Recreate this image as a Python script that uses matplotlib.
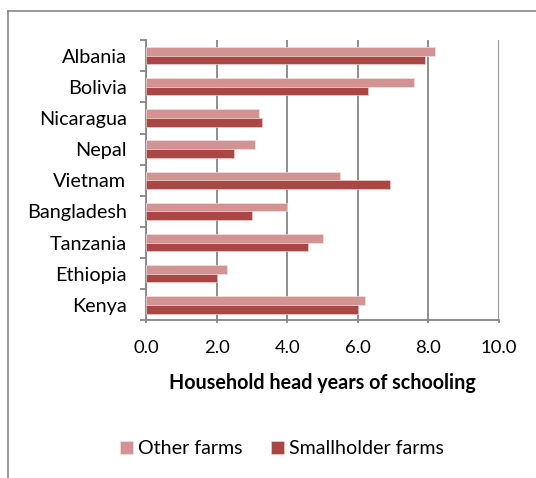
import numpy as np
import matplotlib
matplotlib.use("Agg")
import matplotlib.pyplot as plt
from matplotlib.lines import Line2D

plt.rcParams['font.family'] = ['Lato', 'DejaVu Sans']

countries = ["Kenya", "Ethiopia", "Tanzania", "Bangladesh", "Vietnam",
             "Nepal", "Nicaragua", "Bolivia", "Albania"]
other_farms = [6.2, 2.3, 5.0, 4.0, 5.5, 3.1, 3.2, 7.6, 8.2]
smallholder_farms = [6.0, 2.0, 4.6, 3.0, 6.9, 2.5, 3.3, 6.3, 7.9]
xticks = [0, 2, 4, 6, 8, 10]

grey = '#868686'
pink = '#D39392'
red = '#AA4643'

fig = plt.figure(figsize=(5.36, 4.78), dpi=100)
ax = fig.add_axes([0.2724, 0.3295, 0.6586, 0.5868])

y = np.arange(len(countries))
h = 0.28
ax.barh(y + h / 2, other_farms, height=h, color=pink, edgecolor='#F2E0E0',
        linewidth=0.5, label='Other farms', zorder=3)
ax.barh(y - h / 2, smallholder_farms, height=h, color=red, edgecolor='#ECCFCF',
        linewidth=0.5, label='Smallholder farms', zorder=3)

ax.set_xlim(0, 10)
ax.set_ylim(-0.5, len(countries) - 0.5)
ax.set_xticks(xticks)
ax.set_xticklabels([f"{v:.1f}" for v in xticks])
ax.set_yticks(y)
ax.set_yticklabels(countries)
ax.set_yticks(np.arange(-0.5, len(countries)), minor=True)

ax.grid(axis='x', color=grey, linewidth=1.3, zorder=1)
ax.tick_params(axis='y', which='major', length=0, pad=14, labelsize=14.3)
ax.tick_params(axis='y', which='minor', length=4.5, color=grey, width=1.3)
ax.tick_params(axis='x', length=2.5, color=grey, width=1.3, pad=11.5, labelsize=13.3)

for side in ('top', 'right'):
    ax.spines[side].set_visible(False)
for side in ('left', 'bottom'):
    ax.spines[side].set_color(grey)
    ax.spines[side].set_linewidth(1.3)

ax.set_xlabel('Household head years of schooling', fontsize=14.2,
              fontweight='bold', labelpad=12)

handles, labels = ax.get_legend_handles_labels()
fig.legend(handles, labels, loc='center', bbox_to_anchor=(0.526, 0.0607),
           ncol=2, frameon=False, fontsize=14.1, handlelength=0.65,
           handleheight=0.65, handletextpad=0.25, columnspacing=1.45)

# chart area border (left and top edges)
fig.add_artist(Line2D([8 / 536, 8 / 536], [0, 1 - 11 / 478],
                      transform=fig.transFigure, color=grey, linewidth=1.2))
fig.add_artist(Line2D([8 / 536, 1], [1 - 11 / 478, 1 - 11 / 478],
                      transform=fig.transFigure, color=grey, linewidth=1.2))

fig.savefig('out.png', dpi=100)
